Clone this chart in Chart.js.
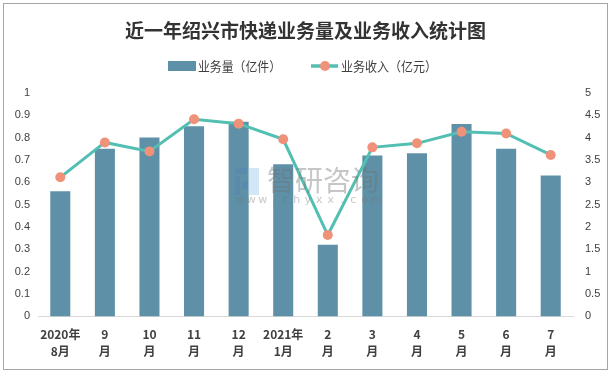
<!DOCTYPE html>
<html><head><meta charset="utf-8">
<script src="https://cdn.jsdelivr.net/npm/chart.js@4"></script>
<style>html,body{margin:0;padding:0;background:#fff}#wrap{width:611px;height:375px;position:relative}</style>
</head><body><div id="wrap"><canvas id="c" width="611" height="375"></canvas></div>
<script>
const categories = [["2020年","8月"],["9","月"],["10","月"],["11","月"],["12","月"],["2021年","1月"],["2","月"],["3","月"],["4","月"],["5","月"],["6","月"],["7","月"]];
const volume = [0.56,0.75,0.80,0.85,0.87,0.68,0.32,0.72,0.73,0.86,0.75,0.63];
const revenue = [3.11,3.89,3.69,4.41,4.31,3.96,1.82,3.78,3.87,4.13,4.09,3.61];
const volumeLabel = "业务量（亿件）";
const revenueLabel = "业务收入（亿元）";
const titleText = "近一年绍兴市快递业务量及业务收入统计图";

const BAR = '#5e91a8', LINE = '#52bfb2', PT = '#f0917a';
const txt = '#404040';

const decor = {
  id:'decor',
  beforeDraw(chart){
    const ctx = chart.ctx;
    ctx.save();
    ctx.fillStyle='#fff'; ctx.fillRect(0,0,chart.width,chart.height);
    ctx.strokeStyle='#a6a6a6'; ctx.lineWidth=1;
    ctx.strokeRect(3.5,3.5,604,366);
    ctx.restore();
  },
  afterDatasetsDraw(chart){
    const ctx = chart.ctx;
    ctx.save();
    ctx.globalAlpha=0.4;
    // logo
    ctx.fillStyle='#4f7fb5';
    ctx.fillRect(235,168,12,6); ctx.fillRect(235,176,5,19); ctx.fillRect(242,182,6,7);
    ctx.fillStyle='#8cc4ea';
    ctx.fillRect(249,168,10,27);
    ctx.fillStyle='#707070';
    ctx.font='28px "Noto Sans CJK SC"';
    ctx.textBaseline='middle'; ctx.textAlign='left';
    ctx.fillText('智研咨询',267,180);
    ctx.font='11px "DejaVu Sans"';
    ctx.textAlign='center';
    const s='www.chyxx.com'; const step=(377-241)/(s.length-1);
    for(let i=0;i<s.length;i++){ctx.fillText(s[i],240+i*step,200);}
    ctx.restore();
    // legend
    ctx.save();
    ctx.font='13px "Noto Sans CJK SC"';
    ctx.textBaseline='middle'; ctx.textAlign='left';
    const y=66;
    ctx.fillStyle=BAR; ctx.fillRect(168,61,28,10);
    ctx.fillStyle=txt; ctx.fillText(volumeLabel,198,y,83);
    ctx.strokeStyle=LINE; ctx.lineWidth=3.5; ctx.beginPath(); ctx.moveTo(311,y); ctx.lineTo(338,y); ctx.stroke();
    ctx.fillStyle=PT; ctx.beginPath(); ctx.arc(325,y,5,0,Math.PI*2); ctx.fill();
    ctx.fillStyle=txt; ctx.fillText(revenueLabel,341,y,96);
    ctx.restore();
  }
};

new Chart(document.getElementById('c'),{
  data:{
    labels:categories,
    datasets:[
      {type:'line',label:revenueLabel,data:revenue,yAxisID:'y1',order:0,borderColor:LINE,borderWidth:3,
       pointRadius:5,pointHoverRadius:5,pointBackgroundColor:PT,pointBorderWidth:0,tension:0},
      {type:'bar',label:volumeLabel,data:volume,yAxisID:'y',order:1,backgroundColor:BAR,
       barPercentage:0.9,categoryPercentage:0.5}
    ]
  },
  options:{
    responsive:false,animation:false,
    layout:{padding:{left:0,right:0,top:0,bottom:5}},
    plugins:{
      legend:{display:false},tooltip:{enabled:false},
      title:{display:true,text:titleText,color:'#333',font:{family:'"Noto Sans CJK SC"',size:19,weight:'bold'},padding:{top:19,bottom:51}}
    },
    scales:{
      x:{offset:true,grid:{display:false,drawTicks:false},border:{display:true,color:'#d9d9d9',width:1},
         ticks:{color:txt,font:{family:'"Noto Sans CJK SC"',size:12,weight:'bold',lineHeight:1.4},padding:10,maxRotation:0,autoSkip:false}},
      y:{position:'left',min:0,max:1,grid:{display:false,drawTicks:false},border:{display:false},
         afterFit(s){s.width=38;},
         ticks:{stepSize:0.1,color:txt,padding:8,font:{family:'"Liberation Sans"',size:11},callback:v=>String(Math.round(v*10)/10)}},
      y1:{position:'right',min:0,max:5,grid:{display:false,drawTicks:false},border:{display:false},
         afterFit(s){s.width=38;},
         ticks:{stepSize:0.5,color:txt,padding:12,font:{family:'"Liberation Sans"',size:11},callback:v=>String(Math.round(v*10)/10)}}
    }
  },
  plugins:[decor]
});
</script></body></html>
